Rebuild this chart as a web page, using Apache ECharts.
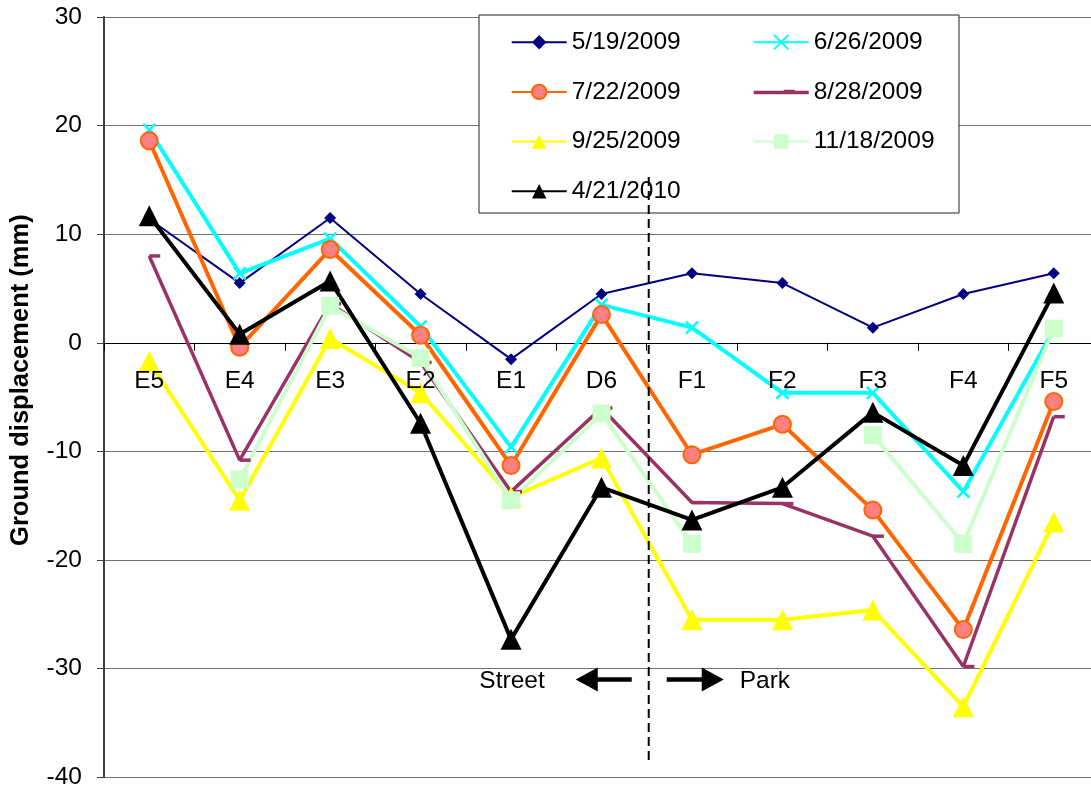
<!DOCTYPE html>
<html>
<head>
<meta charset="utf-8">
<title>Ground displacement</title>
<script src="https://cdn.jsdelivr.net/npm/echarts@6/dist/echarts.min.js"></script>
<style>
  html, body { margin: 0; padding: 0; background: #fff; }
  #chart { width: 1091px; height: 789px; }
</style>
</head>
<body>
<div id="chart"></div>
<script>
// Survey stations along the profile, street side (E) to park side (F)
const stations = ['E5', 'E4', 'E3', 'E2', 'E1', 'D6', 'F1', 'F2', 'F3', 'F4', 'F5'];

// Ground displacement (mm) per survey date
const survey20090519 = [11.4, 5.5, 11.5, 4.5, -1.5, 4.5, 6.4, 5.5, 1.4, 4.5, 6.4];
const survey20090626 = [19.6, 6.4, 9.6, 1.5, -9.6, 3.5, 1.4, -4.6, -4.6, -13.7, 1.2];
const survey20090722 = [18.6, -0.4, 8.6, 0.7, -11.3, 2.6, -10.3, -7.5, -15.4, -26.4, -5.4];
const survey20090828 = [8.0, -10.8, 3.6, -1.8, -13.7, -6.0, -14.7, -14.8, -17.8, -29.8, -6.8];
const survey20090925 = [-1.7, -14.5, 0.4, -4.6, -14.2, -10.6, -25.5, -25.5, -24.6, -33.5, -16.5];
const survey20091118 = [null, -12.6, 3.4, -1.4, -14.5, -6.5, -18.5, null, -8.5, -18.5, 1.3];
const survey20100421 = [11.7, 0.8, 5.7, -7.4, -27.3, -13.3, -16.3, -13.3, -6.4, -11.3, 4.6];

// Value axis range
const yMin = -40;
const yMax = 30;
const yStep = 10;

const FONT = 'Liberation Sans';
const FS = 24.5;

function lineSeries(name, data, o) {
  return {
    name: name,
    type: 'line',
    data: data,
    xAxisIndex: 0,
    symbol: o.symbol,
    symbolSize: o.size,
    symbolOffset: o.offset || [0, 0],
    connectNulls: false,
    lineStyle: { color: o.line, width: o.width },
    itemStyle: {
      color: o.fill || o.line,
      borderColor: o.border || o.line,
      borderWidth: o.borderWidth || 0
    },
    emphasis: { disabled: true }
  };
}

const series = [
  lineSeries('5/19/2009', survey20090519, { line: '#000080', width: 2, symbol: 'diamond', size: 12 }),
  lineSeries('6/26/2009', survey20090626, { line: '#00FFFF', width: 4, symbol: 'path://M0,0L10,10M10,0L0,10', size: 12, borderWidth: 2.5 }),
  lineSeries('7/22/2009', survey20090722, { line: '#FF6600', width: 4, symbol: 'circle', size: 17, fill: '#FF8080', border: '#FF6600', borderWidth: 2 }),
  lineSeries('8/28/2009', survey20090828, { line: '#993366', width: 3.5, symbol: 'rect', size: [11, 3.5], offset: [5.5, 0] }),
  lineSeries('9/25/2009', survey20090925, { line: '#FFFF00', width: 4, symbol: 'triangle', size: 21 }),
  lineSeries('11/18/2009', survey20091118, { line: '#CCFFCC', width: 4, symbol: 'rect', size: 18 }),
  lineSeries('4/21/2010', survey20100421, { line: '#000000', width: 4, symbol: 'triangle', size: 21 })
];

const legendText = { fontFamily: FONT, fontSize: FS, color: '#000', lineHeight: 24 };
const legendBase = {
  orient: 'vertical',
  top: 29.7,
  padding: 0,
  itemWidth: 55,
  itemHeight: 18,
  itemGap: 24.7,
  selectedMode: false,
  textStyle: legendText
};

const chart = echarts.init(document.getElementById('chart'));

chart.setOption({
  animation: false,
  backgroundColor: '#fff',
  grid: { left: 104, right: -8, top: 17, bottom: 11.7, containLabel: false, outerBoundsMode: 'none' },
  legend: [
    Object.assign({}, legendBase, {
      left: 510.7,
      data: ['5/19/2009', '7/22/2009', '9/25/2009', '4/21/2010']
    }),
    Object.assign({}, legendBase, {
      left: 752.7,
      data: [
        '6/26/2009',
        { name: '8/28/2009', icon: 'path://M0,8.5H55V12H0Z M30,7.5H41V12H30Z' },
        '11/18/2009'
      ]
    })
  ],
  xAxis: [
    {
      // axis line and ticks, beneath the series
      type: 'category',
      data: stations,
      position: 'bottom',
      boundaryGap: true,
      axisLine: { onZero: false, lineStyle: { color: '#000', width: 1 } },
      axisTick: { show: true, length: 8, alignWithLabel: false, lineStyle: { color: '#000' } },
      axisLabel: { show: false },
      splitLine: { show: false }
    },
    {
      // station labels, drawn over the series
      type: 'category',
      data: stations,
      position: 'bottom',
      boundaryGap: true,
      z: 5,
      axisLine: { show: false, onZero: false },
      axisTick: { show: false },
      axisLabel: { margin: 26, fontFamily: FONT, fontSize: FS, color: '#000' },
      splitLine: { show: false }
    }
  ],
  yAxis: {
    type: 'value',
    min: yMin,
    max: yMax,
    interval: yStep,
    name: 'Ground displacement (mm)',
    nameLocation: 'middle',
    nameRotate: 90,
    nameGap: 70,
    nameTextStyle: {
      fontFamily: FONT, fontSize: 25.5, fontWeight: 'bold', color: '#000',
      padding: [0, 0, 0, 34]
    },
    axisLine: { show: true, lineStyle: { color: '#404040', width: 2 } },
    axisTick: { show: true, length: 7, lineStyle: { color: '#404040' } },
    axisLabel: { margin: 22, fontFamily: FONT, fontSize: FS, color: '#000' },
    splitLine: { show: true, lineStyle: { color: '#707070', width: 1 } }
  },
  series: series
});

// Category axis sits on the zero line, with its labels just below it
const yZero = chart.convertToPixel({ yAxisIndex: 0 }, 0);
const yBottom = chart.convertToPixel({ yAxisIndex: 0 }, yMin);
const zeroOffset = -(yBottom - yZero);

// Street / park divider and direction arrows, placed from the axes
const xD6 = chart.convertToPixel({ xAxisIndex: 0 }, 'D6');
const xF1 = chart.convertToPixel({ xAxisIndex: 0 }, 'F1');
const xDiv = (xD6 + xF1) / 2 + 2;
const yArrow = chart.convertToPixel({ yAxisIndex: 0 }, -31);

chart.setOption({
  xAxis: [{ offset: zeroOffset }, { offset: zeroOffset }],
  graphic: [
    {
      type: 'rect', z: 1,
      shape: { x: 479, y: 15, width: 480, height: 198 },
      style: { fill: '#fff', stroke: '#222', lineWidth: 1 }
    },
    {
      type: 'line', z: 10,
      shape: { x1: xDiv, y1: 177, x2: xDiv, y2: 763 },
      style: { stroke: '#000', lineWidth: 2, lineDash: [9, 5] }
    },
    {
      type: 'line', z: 10,
      shape: { x1: xDiv - 53, y1: yArrow, x2: xDiv - 17, y2: yArrow },
      style: { stroke: '#000', lineWidth: 4.5 }
    },
    {
      type: 'polygon', z: 10,
      shape: { points: [[xDiv - 73, yArrow], [xDiv - 51, yArrow - 12], [xDiv - 51, yArrow + 12]] },
      style: { fill: '#000' }
    },
    {
      type: 'line', z: 10,
      shape: { x1: xDiv + 18, y1: yArrow, x2: xDiv + 55, y2: yArrow },
      style: { stroke: '#000', lineWidth: 4.5 }
    },
    {
      type: 'polygon', z: 10,
      shape: { points: [[xDiv + 75, yArrow], [xDiv + 53, yArrow - 12], [xDiv + 53, yArrow + 12]] },
      style: { fill: '#000' }
    },
    {
      type: 'text', z: 10,
      x: xDiv - 104, y: yArrow + 2,
      style: { text: 'Street', font: FS + 'px "' + FONT + '"', fill: '#000', align: 'right', verticalAlign: 'middle' }
    },
    {
      type: 'text', z: 10,
      x: xDiv + 91, y: yArrow + 2,
      style: { text: 'Park', font: FS + 'px "' + FONT + '"', fill: '#000', align: 'left', verticalAlign: 'middle' }
    }
  ]
});
</script>
</body>
</html>
